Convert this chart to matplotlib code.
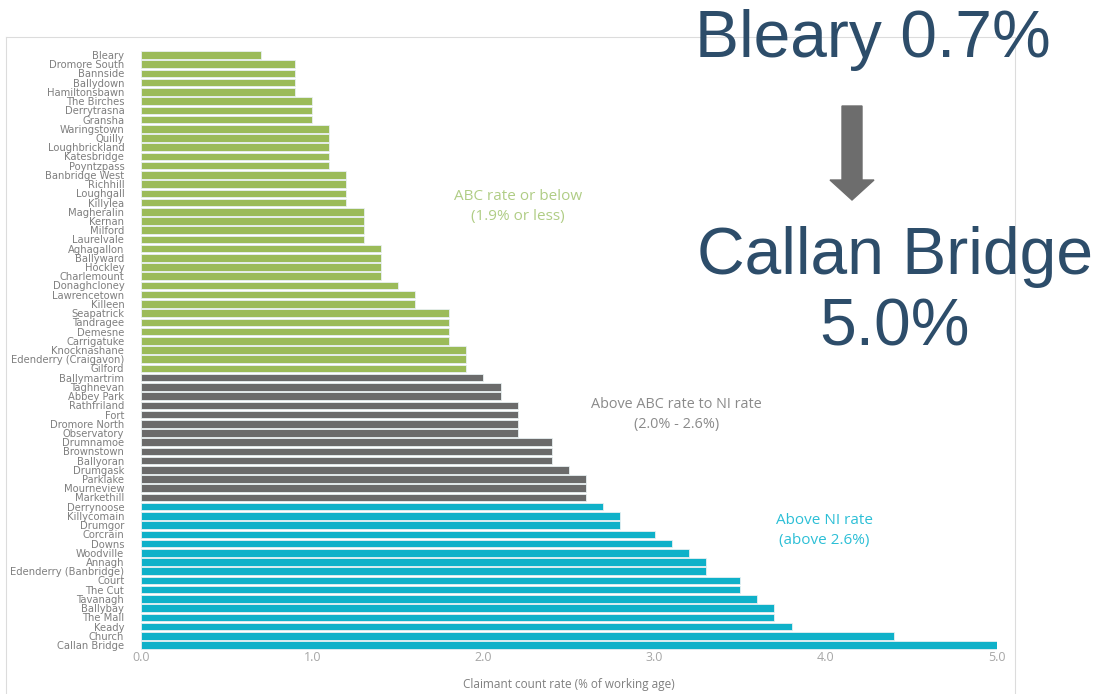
import matplotlib.pyplot as plt
from matplotlib.lines import Line2D
from matplotlib.patches import FancyArrow

# ward names, top to bottom
green_names = ["Bleary", "Dromore South", "Bannside", "Ballydown", "Hamiltonsbawn",
               "The Birches", "Derrytrasna", "Gransha", "Waringstown", "Quilly",
               "Loughbrickland", "Katesbridge", "Poyntzpass", "Banbridge West", "Richhill",
               "Loughgall", "Killylea", "Magheralin", "Kernan", "Milford", "Laurelvale",
               "Aghagallon", "Ballyward", "Hockley", "Charlemount", "Donaghcloney",
               "Lawrencetown", "Killeen", "Seapatrick", "Tandragee", "Demesne",
               "Carrigatuke", "Knocknashane", "Edenderry (Craigavon)", "Gilford"]
green_vals = [0.7, 0.9, 0.9, 0.9, 0.9, 1.0, 1.0, 1.0, 1.1, 1.1, 1.1, 1.1, 1.1,
              1.2, 1.2, 1.2, 1.2, 1.3, 1.3, 1.3, 1.3, 1.4, 1.4, 1.4, 1.4, 1.5,
              1.6, 1.6, 1.8, 1.8, 1.8, 1.8, 1.9, 1.9, 1.9]

grey_names = ["Ballymartrim", "Taghnevan", "Abbey Park", "Rathfriland", "Fort",
              "Dromore North", "Observatory", "Drumnamoe", "Brownstown", "Ballyoran",
              "Drumgask", "Parklake", "Mourneview", "Markethill"]
grey_vals = [2.0, 2.1, 2.1, 2.2, 2.2, 2.2, 2.2, 2.4, 2.4, 2.4, 2.5, 2.6, 2.6, 2.6]

cyan_names = ["Derrynoose", "Killycomain", "Drumgor", "Corcrain", "Downs", "Woodville",
              "Annagh", "Edenderry (Banbridge)", "Court", "The Cut", "Tavanagh",
              "Ballybay", "The Mall", "Keady", "Church", "Callan Bridge"]
cyan_vals = [2.7, 2.8, 2.8, 3.0, 3.1, 3.2, 3.3, 3.3, 3.5, 3.5, 3.6, 3.7, 3.7, 3.8,
             4.4, 5.0]

xticks = [0, 1, 2, 3, 4, 5]

GREEN = "#9bbb59"
GREY = "#6b6b6b"
CYAN = "#0fb1c9"

names = green_names + grey_names + cyan_names
vals = green_vals + grey_vals + cyan_vals
colors = [GREEN] * len(green_vals) + [GREY] * len(grey_vals) + [CYAN] * len(cyan_vals)
ypos = list(range(len(names)))

fig = plt.figure(figsize=(10.99, 6.94), dpi=100)
ax = fig.add_axes([141 / 1099, 1 - 649.6 / 694, 856 / 1099, 599.2 / 694])

ax.barh(ypos, vals, height=0.82, color=colors, edgecolor="#e8f0f2", linewidth=0.6)
ax.set_ylim(len(names) - 0.5, -0.5)
ax.set_xlim(0, 5)
ax.set_yticks(ypos)
ax.set_yticklabels(names, fontsize=7.2, color="#7f7f7f",
                   family=["Liberation Sans Narrow", "DejaVu Sans Condensed", "DejaVu Sans"])
ax.set_xticks(xticks)
ax.set_xticklabels([f"{t:.1f}" for t in xticks], fontsize=9, color="#a6a6a6",
                   family=["Open Sans", "DejaVu Sans"])
ax.tick_params(length=0, axis="y", pad=12)
ax.tick_params(length=0, axis="x", pad=1)
ax.set_xlabel("Claimant count rate (% of working age)", fontsize=8.5, color="#7f7f7f",
              family=["Open Sans", "DejaVu Sans"], labelpad=10)
for s in ax.spines.values():
    s.set_visible(False)

# group labels
ax.text(2.2, 16.4, "ABC rate or below\n(1.9% or less)", ha="center", va="center",
        fontsize=11, color="#b0cd85", linespacing=1.45, family=["Open Sans", "DejaVu Sans"])
ax.text(3.13, 39.0, "Above ABC rate to NI rate\n(2.0% - 2.6%)", ha="center", va="center",
        fontsize=10.4, color="#8a8a8a", linespacing=1.5, family=["Open Sans", "DejaVu Sans"])
ax.text(3.99, 51.6, "Above NI rate\n(above 2.6%)", ha="center", va="center",
        fontsize=11, color="#2cbfd6", linespacing=1.45, family=["Open Sans", "DejaVu Sans"])

# light frame around the chart area
fc = "#dcdcdc"
fig.add_artist(Line2D([6 / 1099, 1015 / 1099], [1 - 37 / 694] * 2, color=fc, lw=0.8))
fig.add_artist(Line2D([6 / 1099] * 2, [0, 1 - 37 / 694], color=fc, lw=0.8))
fig.add_artist(Line2D([1015 / 1099] * 2, [0, 1 - 37 / 694], color=fc, lw=0.8))

# big callout text
big = "#2d4d6a"
fig.text(873 / 1099, 1 - 40 / 694, "Bleary 0.7%", ha="center", va="center",
         fontsize=47.5, color=big, family="Liberation Sans")
fig.add_artist(FancyArrow(852 / 1099, 1 - 106 / 694, 0, -(94 / 694), width=20 / 1099,
                          head_width=44 / 1099, head_length=20 / 694,
                          length_includes_head=True, color="#6d6d6d",
                          transform=fig.transFigure))
fig.text(895 / 1099, 1 - 257 / 694, "Callan Bridge", ha="center", va="center",
         fontsize=47.5, color=big, family="Liberation Sans")
fig.text(895 / 1099, 1 - 329 / 694, "5.0%", ha="center", va="center",
         fontsize=47.5, color=big, family="Liberation Sans")

fig.savefig("out.png", dpi=100)
